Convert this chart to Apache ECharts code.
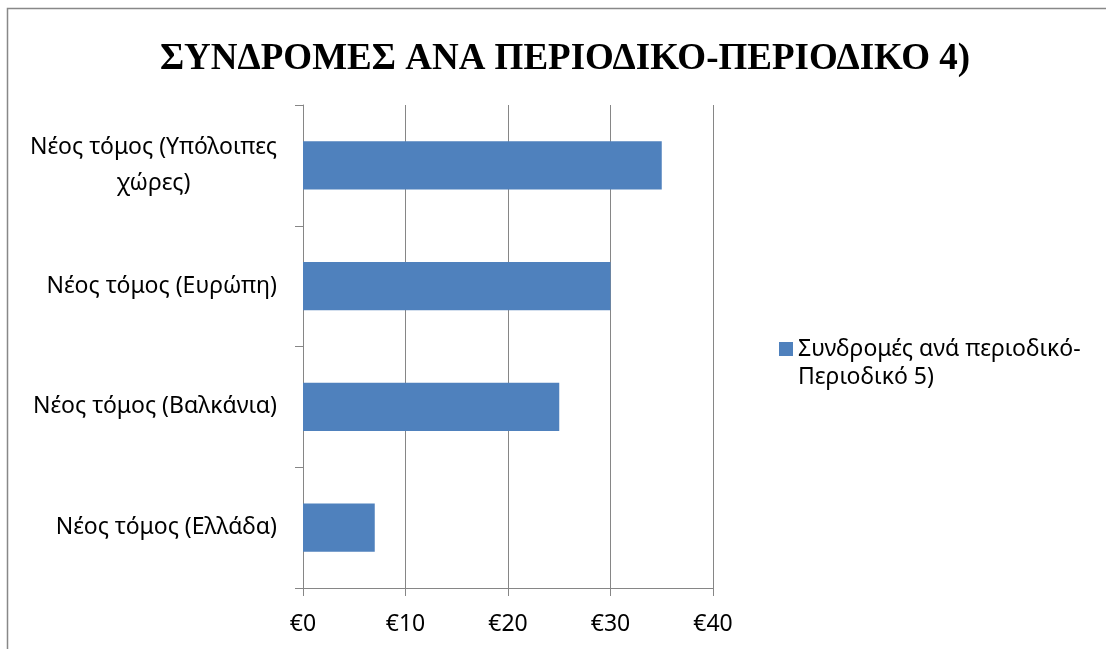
<!DOCTYPE html>
<html>
<head>
<meta charset="utf-8">
<script src="https://cdn.jsdelivr.net/npm/echarts@6/dist/echarts.min.js"></script>
<style>
html,body{margin:0;padding:0;background:#fff;}
#chart{width:1106px;height:649px;}
</style>
</head>
<body>
<div id="chart"></div>
<script>
const titleText = 'ΣΥΝΔΡΟΜΕΣ ΑΝΑ ΠΕΡΙΟΔΙΚΟ-ΠΕΡΙΟΔΙΚΟ 4)';
const seriesName = 'Συνδρομές ανά περιοδικό-\nΠεριοδικό 5)';
const categories = [
  'Νέος τόμος (Ελλάδα)',
  'Νέος τόμος (Βαλκάνια)',
  'Νέος τόμος (Ευρώπη)',
  'Νέος τόμος (Υπόλοιπες\nχώρες)'
];
const values = [7, 25, 30, 35];
const xTicks = [0, 10, 20, 30, 40];

const labelFont = '"Noto Sans", sans-serif';
const labelSize = 23;

// width of the first line of the wrapped label, so the second line can be centred under it
const cv = document.createElement('canvas').getContext('2d');
cv.font = labelSize + 'px ' + labelFont;
const wrapWidth = Math.ceil(cv.measureText('Νέος τόμος (Υπόλοιπες').width);

const chart = echarts.init(document.getElementById('chart'), null, {renderer: 'canvas'});
chart.setOption({
  backgroundColor: '#ffffff',
  animation: false,
  title: {
    text: titleText,
    left: 560, top: 54,
    textAlign: 'center', textVerticalAlign: 'middle',
    textStyle: {fontFamily: '"Liberation Serif", "Times New Roman", serif', fontWeight: 'bold', fontSize: 37, color: '#000'}
  },
  graphic: [{
    type: 'polyline', silent: true,
    shape: {points: [[7.5, 700], [7.5, 8.5], [1110, 8.5]]},
    style: {fill: 'none', stroke: '#888888', lineWidth: 1.5}
  }],
  legend: {
    left: 779, top: 307, padding: 0,
    icon: 'rect', itemWidth: 14, itemHeight: 14,
    data: [seriesName],
    // empty leading line keeps the marker level with the first text line
    formatter: name => '\n' + name,
    textStyle: {fontFamily: labelFont, fontSize: labelSize, color: '#000', lineHeight: 28}
  },
  grid: {left: 303, right: 393, top: 105, bottom: 61, containLabel: false},
  xAxis: {
    type: 'value', min: xTicks[0], max: xTicks[xTicks.length - 1], interval: 10,
    axisLine: {show: true, lineStyle: {color: '#868686', width: 1}},
    axisTick: {show: true, length: 8, lineStyle: {color: '#868686'}},
    splitLine: {show: true, lineStyle: {color: '#868686', width: 1}},
    axisLabel: {
      margin: 25, color: '#000', fontFamily: labelFont, fontSize: labelSize,
      formatter: v => '€' + v
    }
  },
  yAxis: {
    type: 'category', data: categories,
    axisLine: {show: true, lineStyle: {color: '#868686', width: 1}},
    axisTick: {show: true, length: 8, lineStyle: {color: '#868686'}},
    splitLine: {show: false},
    axisLabel: {
      margin: 26, color: '#000', fontFamily: labelFont, fontSize: labelSize,
      formatter: v => v.indexOf('\n') >= 0
        ? v.split('\n').map(s => '{c|' + s + '}').join('\n')
        : v,
      rich: {c: {width: wrapWidth, align: 'center', fontFamily: labelFont, fontSize: labelSize, color: '#000', lineHeight: 36}}
    }
  },
  series: [{
    name: seriesName, type: 'bar', data: values,
    barCategoryGap: '60%',
    itemStyle: {color: '#4f81bd'}
  }]
});
</script>
</body>
</html>
